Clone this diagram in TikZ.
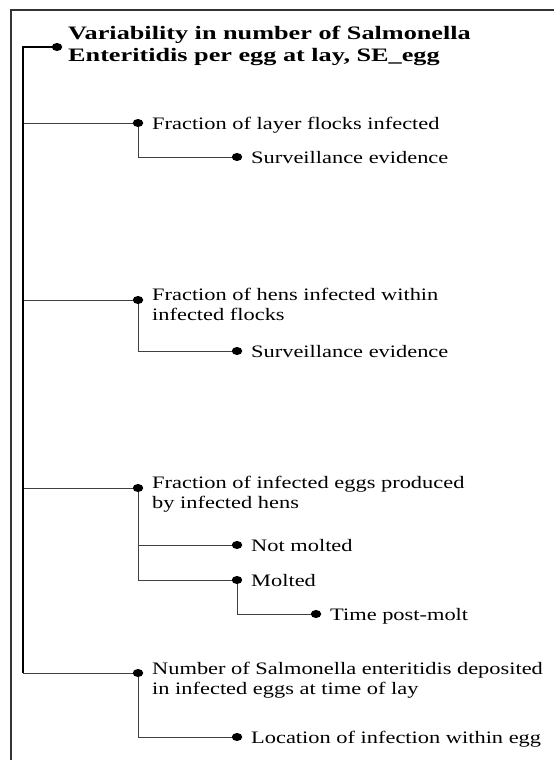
\documentclass[tikz,border=0pt]{standalone}
\usepackage{fontspec}
\setmainfont{Liberation Serif}[FakeStretch=1.28]
\newfontfamily\headfont{Liberation Serif}[FakeStretch=1.38]
\usepackage{tikz}
\usetikzlibrary{shapes.geometric, calc}

\tikzset{
  dot/.style={ellipse, fill=black, inner sep=0pt, minimum width=10.5pt, minimum height=8pt},
  lbl/.style={anchor=base west, align=left, inner sep=0pt, font=\fontsize{17.5}{20}\selectfont},
  head/.style={lbl, font=\headfont\bfseries\fontsize{19}{22}\selectfont},
  link/.style={draw=black!75, line width=1pt},
  trunk/.style={draw=black, line width=1.8pt},
}

\begin{document}
\begin{tikzpicture}[x=1pt, y=-1pt]
  \useasboundingbox (0,0) rectangle (554,760);
  % frame, cut at right and bottom
  \draw[black!80, line width=1.3pt] (554,10) -| (11,760);

  % dots
  \node[dot] (root) at (57,47) {};
  \coordinate (spine) at (23,47);
  \node[dot] (flk) at (138,123) {};
  \node[dot] (sv1) at (237,157) {};
  \node[dot] (hen) at (138,300) {};
  \node[dot] (sv2) at (237,351) {};
  \node[dot] (egg) at (138,488) {};
  \node[dot] (nmo) at (237,545) {};
  \node[dot] (mol) at (237,580) {};
  \node[dot] (tpm) at (316,614) {};
  \node[dot] (num) at (138,673) {};
  \node[dot] (loc) at (237,737) {};

  % labels (base = last line)
  \node[head] (root-t) at ($(root)+(11,15)$) {Variability in number of Salmonella\\Enteritidis per egg at lay, SE\_egg};
  \node[lbl] (flk-t) at ($(flk)+(14,6)$) {Fraction of layer flocks infected};
  \node[lbl] (sv1-t) at ($(sv1)+(14,6)$) {Surveillance evidence};
  \node[lbl] (hen-t) at ($(hen)+(14,20)$) {Fraction of hens infected within\\infected flocks};
  \node[lbl] (sv2-t) at ($(sv2)+(14,6)$) {Surveillance evidence};
  \node[lbl] (egg-t) at ($(egg)+(14,20)$) {Fraction of infected eggs produced\\by infected hens};
  \node[lbl] (nmo-t) at ($(nmo)+(14,6)$) {Not molted};
  \node[lbl] (mol-t) at ($(mol)+(14,6)$) {Molted};
  \node[lbl] (tpm-t) at ($(tpm)+(14,6)$) {Time post-molt};
  \node[lbl] (num-t) at ($(num)+(14,21)$) {Number of Salmonella enteritidis deposited\\in infected eggs at time of lay};
  \node[lbl] (loc-t) at ($(loc)+(14,6)$) {Location of infection within egg};

  % connectors
  \foreach \c in {flk,hen,egg,num}
    \draw[link] (\c) -- (\c -| spine);
  \foreach \p/\c in {flk/sv1, hen/sv2, egg/nmo, egg/mol, mol/tpm, num/loc}
    \draw[link] (\c) -| (\p);
  \draw[trunk] (root) -- (spine) -- (spine |- num);
\end{tikzpicture}
\end{document}
